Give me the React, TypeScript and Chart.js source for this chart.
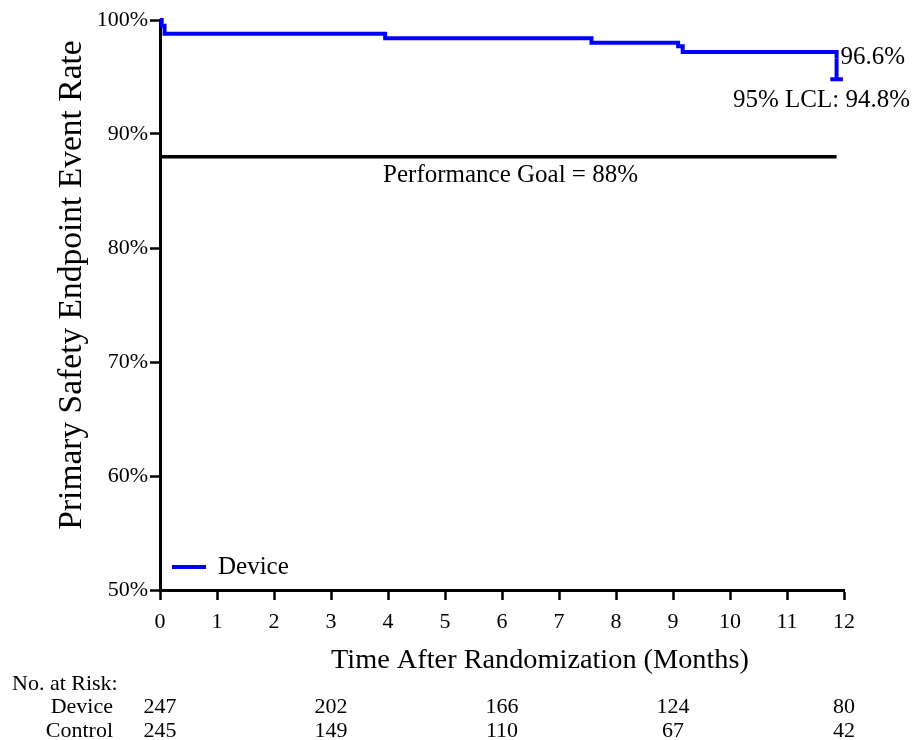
import React, { useEffect, useRef } from "react";
import { Chart, registerables } from "chart.js";

Chart.register(...registerables);

// Kaplan-Meier estimate (Device)
const kmTimes = [0, 0.03, 0.08, 3.95, 7.57, 9.09, 9.17, 11.87];
const kmRates = [100, 99.5, 98.8, 98.4, 98.0, 97.7, 97.2, 96.6];

// Lower confidence limit at end of follow-up
const lclTime = 11.87;
const finalRate = 96.6;
const lclValue = 94.8;
const capHalfWidth = 0.11;

// Performance goal
const goalValue = 88;
const goalEnd = 11.87;

// Axis ticks
const yTicks = [50, 60, 70, 80, 90, 100];
const xTickMax = 12;

// Numbers at risk
const riskTimes = [0, 3, 6, 9, 12];
const deviceAtRisk = [247, 202, 166, 124, 80];
const controlAtRisk = [245, 149, 110, 67, 42];

const SERIF = '"Liberation Serif", "Times New Roman", serif';
const BLUE = "#0000ff";

const annotationPlugin = {
  id: "kmAnnotations",
  afterDraw(chart: any) {
    const ctx = chart.ctx;
    const xs = chart.scales.x;
    const ys = chart.scales.y;
    const area = chart.chartArea;
    ctx.save();
    ctx.fillStyle = "#000";

    // Y title
    ctx.save();
    ctx.translate(72, 285);
    ctx.rotate(-Math.PI / 2);
    ctx.font = `33.5px ${SERIF}`;
    ctx.textAlign = "center";
    ctx.textBaseline = "middle";
    ctx.fillText("Primary Safety Endpoint Event Rate", 0, 0);
    ctx.restore();

    // X title
    ctx.font = `28.3px ${SERIF}`;
    ctx.textAlign = "center";
    ctx.textBaseline = "middle";
    ctx.fillText("Time After Randomization (Months)", 540, 661);

    // Goal label
    ctx.font = `25px ${SERIF}`;
    ctx.textAlign = "center";
    ctx.fillText(
      `Performance Goal = ${goalValue}%`,
      xs.getPixelForValue(6.15),
      ys.getPixelForValue(goalValue) + 19
    );

    // End labels
    ctx.textAlign = "left";
    ctx.fillText(`${finalRate}%`, xs.getPixelForValue(lclTime) + 4, ys.getPixelForValue(finalRate) - 1);
    ctx.textAlign = "right";
    ctx.fillText(`95% LCL: ${lclValue}%`, 910, ys.getPixelForValue(lclValue) + 21);

    // Legend
    const ly = area.bottom - 23;
    ctx.strokeStyle = BLUE;
    ctx.lineWidth = 4;
    ctx.beginPath();
    ctx.moveTo(area.left + 12, ly);
    ctx.lineTo(area.left + 46, ly);
    ctx.stroke();
    ctx.textAlign = "left";
    ctx.fillText("Device", area.left + 58, ly);

    // Numbers at risk
    ctx.font = `22px ${SERIF}`;
    ctx.textAlign = "left";
    ctx.fillText("No. at Risk:", 12, 684);
    ctx.textAlign = "right";
    ctx.fillText("Device", 113, 707);
    ctx.fillText("Control", 113, 731);
    ctx.textAlign = "center";
    riskTimes.forEach((t, i) => {
      const px = xs.getPixelForValue(t);
      ctx.fillText(String(deviceAtRisk[i]), px, 707);
      ctx.fillText(String(controlAtRisk[i]), px, 731);
    });
    ctx.restore();
  },
};

export default function App() {
  const ref = useRef<HTMLCanvasElement | null>(null);
  useEffect(() => {
    if (!ref.current) return;
    const kmData = kmTimes.map((t, i) => ({ x: t, y: kmRates[i] }));
    const lclData = [
      { x: lclTime, y: finalRate },
      { x: lclTime, y: lclValue },
      { x: lclTime - capHalfWidth, y: lclValue },
      { x: lclTime + capHalfWidth, y: lclValue },
    ];
    const goalData = [
      { x: 0, y: goalValue },
      { x: goalEnd, y: goalValue },
    ];
    const chart = new Chart(ref.current, {
      type: "line",
      data: {
        datasets: [
          {
            label: "Device",
            data: kmData,
            borderColor: BLUE,
            borderWidth: 4,
            stepped: true,
            pointRadius: 0,
            fill: false,
            clip: false as any,
          },
          {
            label: "LCL",
            data: lclData,
            borderColor: BLUE,
            borderWidth: 4,
            pointRadius: 0,
            fill: false,
            clip: false as any,
          },
          {
            label: "Goal",
            data: goalData,
            borderColor: "#000",
            borderWidth: 3.5,
            pointRadius: 0,
            fill: false,
          },
        ],
      },
      options: {
        responsive: false,
        animation: false,
        events: [],
        layout: { padding: { left: 0, top: 20, right: 69, bottom: 0 } },
        plugins: {
          legend: { display: false },
          tooltip: { enabled: false },
        },
        scales: {
          x: {
            type: "linear",
            min: 0,
            max: xTickMax,
            afterFit(scale: any) {
              scale.height = 150;
            },
            ticks: {
              stepSize: 1,
              color: "#000",
              font: { family: SERIF, size: 22 },
              padding: 9,
              maxRotation: 0,
            },
            grid: {
              display: true,
              drawOnChartArea: false,
              drawTicks: true,
              tickLength: 10,
              tickColor: "#000",
              tickWidth: 2.5,
            } as any,
            border: { display: true, color: "#000", width: 3 },
          },
          y: {
            type: "linear",
            min: yTicks[0],
            max: yTicks[yTicks.length - 1],
            afterFit(scale: any) {
              scale.width = 160;
            },
            ticks: {
              stepSize: 10,
              color: "#000",
              font: { family: SERIF, size: 22 },
              padding: 2,
              callback: (v: any) => `${v}%`,
            },
            grid: {
              display: true,
              drawOnChartArea: false,
              drawTicks: true,
              tickLength: 10,
              tickColor: "#000",
              tickWidth: 2.5,
            } as any,
            border: { display: true, color: "#000", width: 3 },
          },
        },
      },
      plugins: [annotationPlugin],
    });
    return () => chart.destroy();
  }, []);
  return (
    <div style={{ position: "absolute", left: 0, top: 0, width: 913, height: 740, background: "#fff" }}>
      <canvas ref={ref} width={913} height={740} style={{ width: 913, height: 740, display: "block" }} />
    </div>
  );
}
